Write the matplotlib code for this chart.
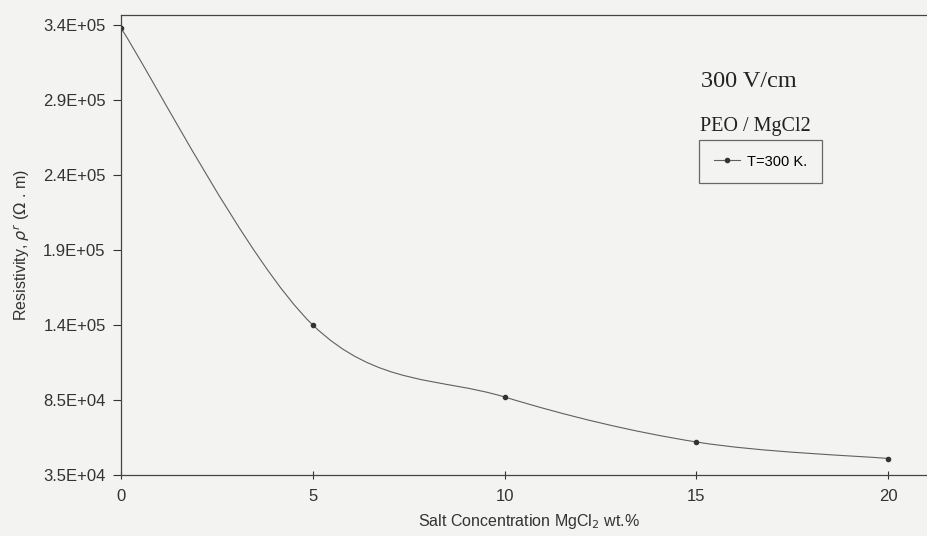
import numpy as np
import matplotlib
matplotlib.use('Agg')
import matplotlib.pyplot as plt
from matplotlib.path import Path
from matplotlib.patches import PathPatch
from matplotlib.lines import Line2D

plt.rcParams['font.family'] = ['Liberation Sans', 'DejaVu Sans']

# data
salt_wt = [0, 5, 10, 15, 20]
resistivity = [333000, 135000, 87000, 57000, 46000]
y_ticks = [35000, 85000, 135000, 185000, 235000, 285000, 335000]
y_tick_labels = ['3.5E+04', '8.5E+04', '1.4E+05', '1.9E+05', '2.4E+05', '2.9E+05', '3.4E+05']
x_ticks = [0, 5, 10, 15, 20]


def smooth_path(x, y):
    """Excel-style smoothed line as cubic Bezier segments through the points."""
    pts = np.column_stack([x, y]).astype(float)
    n = len(pts)
    verts = [pts[0]]
    codes = [Path.MOVETO]
    for i in range(n - 1):
        p0 = pts[i - 1] if i > 0 else pts[i]
        p1 = pts[i]
        p2 = pts[i + 1]
        p3 = pts[i + 2] if i + 2 < n else pts[i + 1]
        c1 = p1 + (p2 - p0) / 6
        c2 = p2 - (p3 - p1) / 6
        verts += [c1, c2, p2]
        codes += [Path.CURVE4] * 3
    return Path(verts, codes)


fig = plt.figure(figsize=(9.27, 5.36), dpi=100, facecolor='#f3f3f1')
ax = fig.add_axes([121 / 927, (536 - 475) / 536, 1 - 121 / 927 + 0.01, (475 - 15) / 536])
ax.set_facecolor('#f3f3f1')

ax.add_patch(PathPatch(smooth_path(salt_wt, resistivity), facecolor='none',
                       edgecolor='#606060', linewidth=0.8))
ax.plot(salt_wt, resistivity, linestyle='none', marker='o', markersize=3,
        color='#333333')

ax.set_xlim(0, 21.25)
ax.set_ylim(35000, 341700)
ax.set_xticks(x_ticks)
ax.set_yticks(y_ticks)
ax.set_yticklabels(y_tick_labels)
ax.tick_params(axis='both', labelsize=12, colors='#333333', length=6, width=0.8)
ax.tick_params(axis='x', direction='inout', pad=7)
ax.tick_params(axis='y', direction='out', pad=5)
for side in ['left', 'top', 'bottom']:
    ax.spines[side].set_color('#444444')
    ax.spines[side].set_linewidth(0.9)
ax.spines['right'].set_visible(False)

ax.set_xlabel('Salt Concentration MgCl$_2$ wt.%', fontsize=11.5, color='#333333',
              labelpad=6)
ax.set_ylabel(r'Resistivity, $\rho^{r}$ ($\Omega$ . m)', fontsize=11.5,
              color='#333333', labelpad=8)

fig.text(701 / 927, 1 - 87 / 536, '300 V/cm', family='Liberation Serif',
         fontsize=17.5, color='#222222')
fig.text(700 / 927, 1 - 131 / 536, 'PEO / MgCl2', family='Liberation Serif',
         fontsize=14.5, color='#222222')

handle = Line2D([], [], color='#606060', linewidth=0.8, marker='o',
                markersize=3, markerfacecolor='#333333', markeredgecolor='#333333')
leg = fig.legend([handle], ['T=300 K.'], loc='upper left',
                 bbox_to_anchor=(699 / 927, 1 - 140 / 536), borderaxespad=0,
                 fontsize=10.5, frameon=True, fancybox=False, handlelength=1.8,
                 borderpad=1.0, handletextpad=0.5)
leg.get_frame().set_edgecolor('#444444')
leg.get_frame().set_linewidth(0.9)
leg.get_frame().set_facecolor('#f3f3f1')

fig.savefig('out.png', dpi=100, facecolor=fig.get_facecolor())
